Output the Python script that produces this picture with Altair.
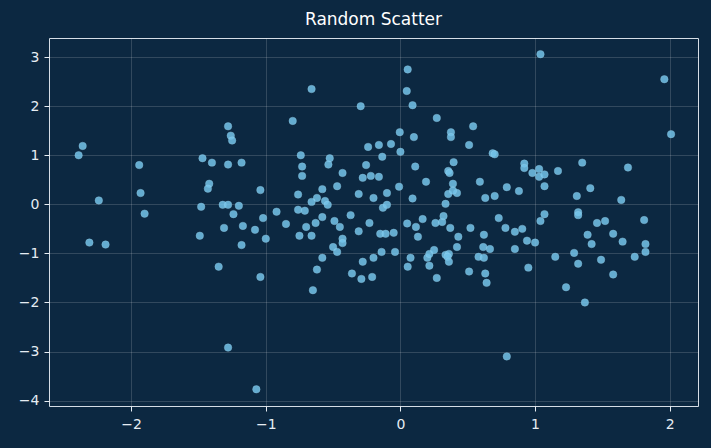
import altair as alt
import pandas as pd

x_vals = [
    -2.39, -2.36, -2.24, -2.31, -2.19, -1.94, -1.93, -1.90, -1.47, -1.40,
    -1.42, -1.43, -1.48, -1.49, -1.35, -1.28, -1.26, -1.25, -1.28, -1.18,
    -1.04, -1.32, -1.28, -1.20, -1.24, -1.02, -1.31, -1.17, -1.08, -1.00,
    -1.18, -1.04, -1.28, -1.07, -0.92,
    -0.66, -0.295, -0.80, -0.74, -0.24, -0.16, -0.135, -0.525, -0.535, -0.73,
    -0.255, -0.73, -0.43, -0.28, -0.22, -0.16, -0.47, -0.58, -0.76, -0.31,
    -0.20, -0.62, -0.66, -0.56, -0.54, -0.76, -0.71, -0.85, -0.75, -0.70,
    -0.66, -0.63, -0.58, -0.49, -0.45, -0.37, -0.31, -0.23, -0.15, -0.43,
    -0.43, -0.50, -0.47, -0.58, -0.62, -0.28, -0.20, -0.14, -0.36, -0.29,
    -0.21, -0.65, -0.07, -0.11, -0.05, -0.04, -0.10, -0.13, -0.10, -0.01,
    1.04, 0.054, 0.047, 0.09, 0.27, 0.54, 0.375, 0.375, -0.005, 0.10,
    0.51, 0.00, 0.685, 0.70, 0.395, 0.92, 0.11, 1.03, 0.355, 0.365,
    0.19, 0.39, 0.355, 0.42, 0.39, 0.09, 0.335, 0.59, 0.63, 0.70,
    0.79, 0.88, 0.92, 0.98, 1.03, 1.07, 1.07, 1.07, 1.04, 0.05,
    0.115, 0.165, 0.13, 0.26, 0.31, 0.32, 0.37, 0.52, 0.43, 0.42,
    0.62, 0.73, 0.78, 0.85, 0.905, 0.94, 1.00, 0.615, 0.665, 0.85,
    0.075, 0.054, 0.20, 0.215, 0.25, 0.335, 0.36, 0.35, 0.36, 0.215,
    0.27, 0.58, 0.62, 0.51, 0.63, 0.64, 0.95, 0.79,
    1.35, 1.69, 1.17, 1.41, 1.31, 1.64, 1.32, 1.32, 1.46, 1.52,
    1.81, 1.39, 1.58, 1.42, 1.65, 1.82, 1.82, 1.74, 1.15, 1.29,
    1.32, 1.49, 1.58, 1.23, 1.37, 1.96, 2.01,
]
y_vals = [
    1.00, 1.19, 0.08, -0.78, -0.82, 0.80, 0.23, -0.19, 0.94, 0.85,
    0.42, 0.32, -0.05, -0.64, -1.27, 1.59, 1.40, 1.30, 0.81, 0.85,
    0.29, -0.01, -0.01, -0.03, -0.20, -0.28, -0.48, -0.44, -0.52, -0.70,
    -0.83, -1.48, -2.92, -3.77, -0.15,
    2.35, 2.00, 1.70, 1.00, 1.17, 1.21, 0.97, 0.94, 0.81, 0.77,
    0.80, 0.58, 0.64, 0.54, 0.58, 0.56, 0.37, 0.31, 0.20, 0.21,
    0.13, 0.13, 0.05, 0.07, -0.01, -0.11, -0.13, -0.40, -0.64, -0.46,
    -0.64, -0.38, -0.26, -0.34, -0.46, -0.22, -0.55, -0.38, -0.60, -0.70,
    -0.79, -0.87, -0.97, -1.09, -1.33, -1.17, -1.09, -0.97, -1.41, -1.52,
    -1.48, -1.75, 1.23, -0.60, -0.58, -0.97, 0.23, -0.07, -0.01, 0.36,
    3.06, 2.75, 2.31, 2.02, 1.76, 1.59, 1.47, 1.37, 1.47, 1.37,
    1.21, 1.07, 1.04, 1.02, 0.86, 0.83, 0.77, 0.72, 0.68, 0.64,
    0.46, 0.42, 0.21, 0.23, 0.28, 0.12, 0.01, 0.46, 0.13, 0.17,
    0.35, 0.27, 0.74, 0.64, 0.56, 0.61, 0.37, -0.20, -0.34, -0.39,
    -0.46, -0.30, -0.66, -0.38, -0.36, -0.24, -0.48, -0.48, -0.66, -0.87,
    -0.62, -0.28, -0.48, -0.56, -0.50, -0.74, -0.78, -0.87, -0.91, -0.91,
    -1.09, -1.27, -1.09, -1.01, -0.93, -1.03, -1.01, -1.07, -1.17, -1.25,
    -1.50, -1.07, -1.09, -1.37, -1.41, -1.60, -1.29, -3.10,
    0.85, 0.75, 0.68, 0.33, 0.17, 0.09, -0.16, -0.22, -0.38, -0.34,
    -0.32, -0.62, -0.60, -0.81, -0.76, -0.81, -0.97, -1.07, -1.07, -0.99,
    -1.21, -1.13, -1.43, -1.69, -2.00, 2.55, 1.43,
]

x_ticks = [-2, -1, 0, 1, 2]
y_ticks = [-4, -3, -2, -1, 0, 1, 2, 3]

df = pd.DataFrame({"x": x_vals, "y": y_vals})

BG = "#0c2841"
FG = "#e6edf3"

chart = (
    alt.Chart(df)
    .mark_circle(size=56, color="#74c4ea", opacity=0.85,
                 stroke="#9fd8f2", strokeWidth=0.6, strokeOpacity=0.7)
    .encode(
        x=alt.X("x:Q", title=None,
                scale=alt.Scale(domain=[-2.61, 2.21], nice=False, zero=False),
                axis=alt.Axis(values=x_ticks, format="d")),
        y=alt.Y("y:Q", title=None,
                scale=alt.Scale(domain=[-4.11, 3.39], nice=False, zero=False),
                axis=alt.Axis(values=y_ticks, format="d")),
    )
    .properties(
        width=649,
        height=368,
        background=BG,
        padding={"left": 49, "top": 38, "right": 13, "bottom": 42},
        autosize=alt.AutoSizeParams(type="none"),
        title=alt.TitleParams("Random Scatter", color="#ffffff", fontSize=17,
                              fontWeight="normal", font="DejaVu Sans", offset=9),
    )
    .configure_view(fill=BG, stroke="#d6dee6", strokeWidth=1)
    .configure_axis(
        domain=False,
        grid=True,
        gridColor="#ffffff",
        gridOpacity=0.2,
        gridWidth=0.8,
        tickColor=FG,
        tickSize=5,
        labelColor=FG,
        labelFont="DejaVu Sans",
        labelFontSize=14,
    )
    .configure_axisX(labelPadding=6)
    .configure_axisY(labelPadding=5)
)

chart.save("out.html", embed_options={"renderer": "svg", "actions": False})
